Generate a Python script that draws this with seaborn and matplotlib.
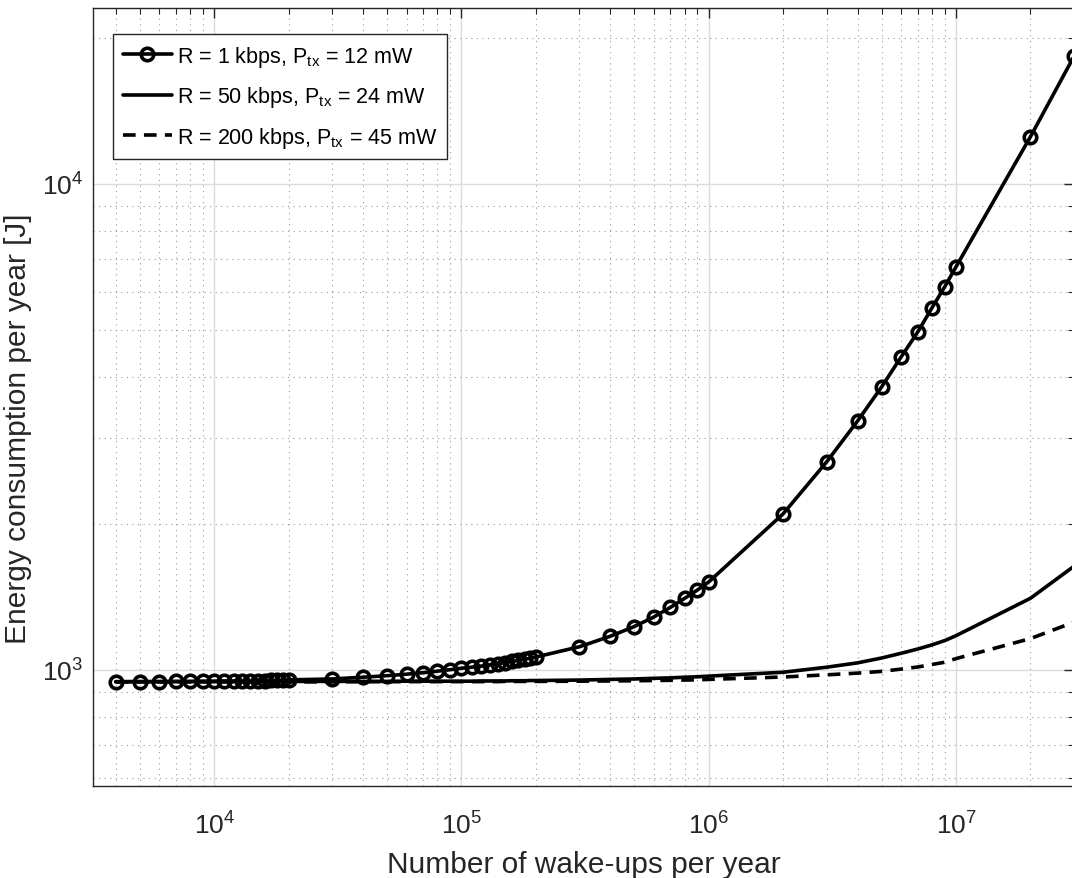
import numpy as np
import pandas as pd
import matplotlib
matplotlib.use('Agg')
import matplotlib.pyplot as plt
import matplotlib.ticker as mticker
import seaborn as sns

# Wake-ups per year (same grid for the three configurations)
wakeups = [4e3, 5e3, 6e3, 7e3, 8e3, 9e3,
           1.0e4, 1.1e4, 1.2e4, 1.3e4, 1.4e4, 1.5e4, 1.6e4, 1.7e4, 1.8e4, 1.9e4, 2.0e4,
           3e4, 4e4, 5e4, 6e4, 7e4, 8e4, 9e4,
           1.0e5, 1.1e5, 1.2e5, 1.3e5, 1.4e5, 1.5e5, 1.6e5, 1.7e5, 1.8e5, 1.9e5, 2.0e5,
           3e5, 4e5, 5e5, 6e5, 7e5, 8e5, 9e5,
           1e6, 2e6, 3e6, 4e6, 5e6, 6e6, 7e6, 8e6, 9e6,
           1e7, 2e7, 3e7]

# Energy per year [J]
energy_1kbps = [945, 946, 946, 947, 947, 948,
                948, 949, 949, 950, 950, 951, 951, 952, 952, 953, 954,
                958, 966, 973, 980, 987, 994, 1001,
                1008, 1013, 1018, 1024, 1030, 1035, 1041, 1046, 1052, 1057, 1063,
                1116, 1173, 1228, 1285, 1345, 1404, 1460,
                1517, 2095, 2680, 3253, 3820, 4404, 4956, 5560, 6140,
                6750, 12500, 18300]

energy_50kbps = [946, 946, 946, 946, 946, 946,
                 946, 946, 946, 946, 946, 946, 946, 946, 946, 946, 947,
                 947, 947, 947, 948, 948, 948, 948,
                 948, 948, 949, 949, 949, 949, 950, 950, 950, 951, 951,
                 953, 956, 958, 961, 963, 966, 968,
                 971, 989, 1013, 1034, 1058, 1082, 1104, 1126, 1149,
                 1176, 1404, 1634]

energy_200kbps = [945, 945, 945, 945, 945, 945,
                  945, 945, 945, 945, 945, 945, 945, 945, 945, 945, 945,
                  945, 946, 946, 946, 946, 946, 946,
                  946, 946, 946, 946, 946, 947, 947, 947, 947, 947, 947,
                  948, 949, 950, 951, 952, 953, 954,
                  956, 967, 977, 985, 993, 1004, 1014, 1026, 1037,
                  1055, 1160, 1254]

labels = [r'R = 1 kbps, P$_{\mathrm{tx}}$ = 12 mW',
          r'R = 50 kbps, P$_{\mathrm{tx}}$ = 24 mW',
          r'R = 200 kbps, P$_{\mathrm{tx}}$ = 45 mW']

TXT = '#262626'

sns.set_theme(style='white')
plt.rcParams['font.family'] = ['Liberation Sans', 'DejaVu Sans']
plt.rcParams['mathtext.fontset'] = 'custom'
plt.rcParams['mathtext.rm'] = 'Liberation Sans'
plt.rcParams['mathtext.it'] = 'Liberation Sans:italic'
plt.rcParams['mathtext.bf'] = 'Liberation Sans:bold'

fig = plt.figure(figsize=(10.72, 8.79), dpi=100)
ax = fig.add_axes([93 / 1072, 92 / 879, (1074 - 93) / 1072, 778 / 879])

df = pd.DataFrame({'wakeups': wakeups,
                   'e1': energy_1kbps,
                   'e50': energy_50kbps,
                   'e200': energy_200kbps})

sns.lineplot(ax=ax, data=df, x='wakeups', y='e1', color='black', lw=2.6,
             marker='o', markersize=9, markerfacecolor='none',
             markeredgecolor='black', markeredgewidth=2.6,
             estimator=None, label=labels[0])
sns.lineplot(ax=ax, data=df, x='wakeups', y='e50', color='black', lw=2.6,
             estimator=None, label=labels[1])
sns.lineplot(ax=ax, data=df, x='wakeups', y='e200', color='black', lw=2.6,
             dashes=False, estimator=None, label=labels[2])
ax.lines[2].set_dashes((3.5, 2.3))

ax.set_xscale('log')
ax.set_yscale('log')
ax.set_xlim(3236, 3.0e7)
ax.set_ylim(577, 23000)

ax.xaxis.set_major_locator(mticker.LogLocator(base=10, numticks=20))
ax.xaxis.set_minor_locator(mticker.LogLocator(base=10, subs=np.arange(2, 10), numticks=20))
ax.yaxis.set_major_locator(mticker.LogLocator(base=10, numticks=20))
ax.yaxis.set_minor_locator(mticker.LogLocator(base=10, subs=np.arange(2, 10), numticks=20))
ax.xaxis.set_minor_formatter(mticker.NullFormatter())
ax.yaxis.set_minor_formatter(mticker.NullFormatter())

ax.grid(which='major', color='#dcdcdc', lw=1.0, ls='-')
ax.grid(which='minor', color='#9a9a9a', lw=0.8, ls=(0, (1, 4)))
ax.set_axisbelow(True)

ax.tick_params(which='both', direction='in', top=True, right=True,
               colors=TXT, labelsize=19)
ax.tick_params(axis='x', which='major', pad=18)
ax.tick_params(axis='y', which='major', pad=7)
ax.tick_params(which='major', length=7, width=1.0)
ax.tick_params(which='minor', length=4, width=0.8)
for sp in ax.spines.values():
    sp.set_color(TXT)
    sp.set_linewidth(1.0)

ax.set_xlabel('Number of wake-ups per year', fontsize=21.5, color=TXT, va='top')
ax.set_ylabel('Energy consumption per year [J]', fontsize=21.5, color=TXT, va='bottom')
ax.xaxis.set_label_coords(0.5, -0.082)
ax.yaxis.set_label_coords(-0.062, 0.461)

leg = ax.legend(loc='upper left', bbox_to_anchor=(20 / 981, 1 - 26 / 778),
                borderaxespad=0, fontsize=15.5, frameon=True, fancybox=False,
                edgecolor=TXT, framealpha=1, handlelength=2.3,
                labelspacing=0.72, handletextpad=0.2, borderpad=0.45)
leg.get_frame().set_linewidth(1.0)
for t in leg.get_texts():
    t.set_color('black')

fig.savefig('out.png', dpi=100)
